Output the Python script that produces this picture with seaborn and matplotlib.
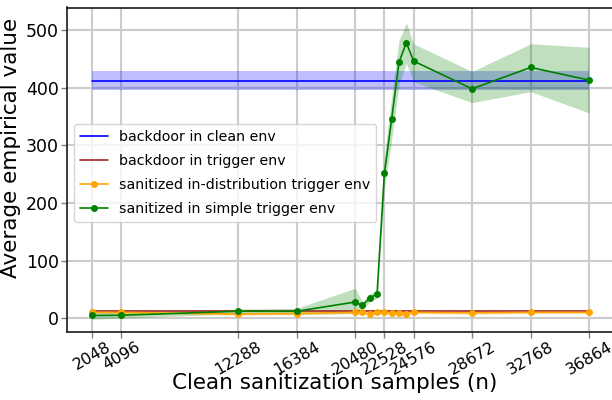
import numpy as np
import matplotlib
matplotlib.use("Agg")
import matplotlib.pyplot as plt
import seaborn as sns

# sample counts on the x axis
n_samples = [2048, 4096, 12288, 16384, 20480, 20992, 21504, 22016, 22528,
             23040, 23552, 24064, 24576, 28672, 32768, 36864]
tick_values = [2048, 4096, 12288, 16384, 20480, 22528, 24576, 28672, 32768, 36864]

# reference lines (constant)
clean_mean = 412
clean_low, clean_high = 396, 429
trigger_mean = 13
trigger_low, trigger_high = 12, 14

# sanitized in-distribution trigger env
indist_mean = [10, 10, 7, 8, 10, 10, 7, 10, 10, 9, 9, 8, 10, 9, 10, 10]
indist_low = [8, 8, 5, 6, 8, 8, 5, 8, 8, 7, 7, 6, 8, 7, 8, 8]
indist_high = [12, 12, 10, 11, 12, 12, 10, 12, 12, 11, 11, 10, 12, 11, 12, 12]

# sanitized in simple trigger env
simple_mean = [4.7, 5, 12, 12, 28, 22, 35, 42, 251, 346, 444, 478, 446, 398, 435, 413]
simple_low = [-2, 0, 8, 7, 8, 15, 28, 35, 225, 310, 405, 442, 410, 374, 393, 356]
simple_high = [10, 10, 16, 17, 52, 28, 42, 48, 280, 385, 482, 512, 476, 428, 476, 470]

sns.set_theme(style="whitegrid", rc={"axes.edgecolor": "0.1", "grid.color": "0.8",
                                     "grid.linewidth": 1.5, "xtick.bottom": True,
                                     "ytick.left": True, "text.color": "black",
                                     "axes.labelcolor": "black", "xtick.color": "black",
                                     "ytick.color": "black"})
plt.rcParams['font.family'] = ['DejaVu Sans']

fig = plt.figure(figsize=(6.12, 4), dpi=100)
ax = fig.add_axes([67 / 612, 68 / 400, 547 / 612, 324.5 / 400])

x_ends = [n_samples[0], n_samples[-1]]
sns.lineplot(x=x_ends, y=[clean_mean] * 2, color="blue", lw=1.2,
             label="backdoor in clean env", ax=ax)
ax.fill_between(x_ends, clean_low, clean_high, color="blue", alpha=0.25, lw=0)

sns.lineplot(x=x_ends, y=[trigger_mean] * 2, color="brown", lw=1.2,
             label="backdoor in trigger env", ax=ax)
ax.fill_between(x_ends, trigger_low, trigger_high, color="brown", alpha=0.25, lw=0)

sns.lineplot(x=n_samples, y=indist_mean, color="orange", marker="o", markersize=5,
             markeredgewidth=0, lw=1.2, label="sanitized in-distribution trigger env", ax=ax)
ax.fill_between(n_samples, indist_low, indist_high, color="orange", alpha=0.25, lw=0)

sns.lineplot(x=n_samples, y=simple_mean, color="green", marker="o", markersize=5,
             markeredgewidth=0, lw=1.2, label="sanitized in simple trigger env", ax=ax)
ax.fill_between(n_samples, simple_low, simple_high, color="green", alpha=0.25, lw=0)

ax.set_xlim(307, 38605)
ax.set_ylim(-24, 539)
ax.set_xticks(tick_values)
ax.set_xticklabels([str(t) for t in tick_values], rotation=30, fontsize=11.5)
ax.set_yticks([0, 100, 200, 300, 400, 500])
ax.tick_params(axis="y", labelsize=12.5, pad=2)
ax.tick_params(axis="x", pad=1)
ax.tick_params(length=4, width=1, color="0.5")
ax.set_xlabel("Clean sanitization samples (n)", fontsize=15.5)
ax.set_ylabel("Average empirical value", fontsize=15.5)
ax.xaxis.set_label_coords(0.49, -0.125)
ax.yaxis.set_label_coords(-0.085, 0.567)
for s in ax.spines.values():
    s.set_linewidth(1.2)

ax.legend(loc="center left", fontsize=10.2, labelspacing=0.72,
          bbox_to_anchor=(0.0, 0.49))

plt.savefig("out.png", dpi=100)
